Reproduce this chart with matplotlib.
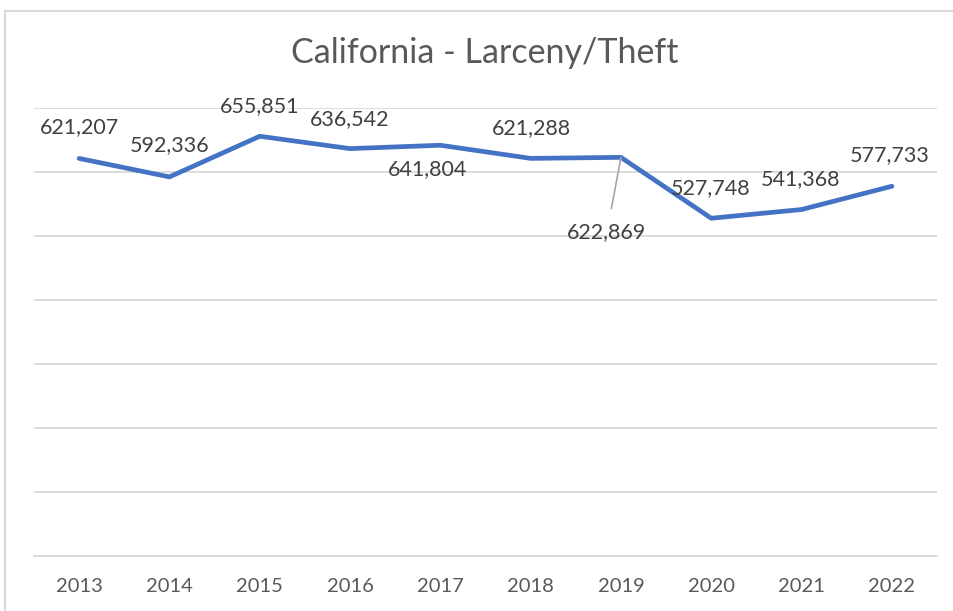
import matplotlib
matplotlib.use("Agg")
import matplotlib.pyplot as plt
from matplotlib.lines import Line2D

years = ["2013", "2014", "2015", "2016", "2017", "2018", "2019", "2020", "2021", "2022"]
values = [621207, 592336, 655851, 636542, 641804, 621288, 622869, 527748, 541368, 577733]
title = "California - Larceny/Theft"

# label offsets in pixels (dx, dy) relative to each point
offsets = [(0, 31), (0, 32), (0, 30), (0, 30), (-13, -24), (1, 30), (-14, -75), (-1, 30), (-1, 30), (-2, 31)]

plt.rcParams['font.family'] = ['Lato', 'DejaVu Sans']
W, H = 954, 611
fig = plt.figure(figsize=(W / 100, H / 100), dpi=100)
fig.patch.set_facecolor('white')

ax = fig.add_axes([34 / W, 1 - 556 / H, (937 - 34) / W, (556 - 108) / H])
x = list(range(len(years)))
ax.plot(x, values, color='#4472C4', lw=3.4, solid_capstyle='round', solid_joinstyle='round', zorder=3)
ax.set_xlim(-0.5, len(years) - 0.5)
ax.set_ylim(0, 700000)
ax.set_yticks(range(0, 700001, 100000))
ax.yaxis.grid(True, color='#d9d9d9', lw=1.3)
ax.set_axisbelow(True)
ax.tick_params(axis='y', left=False, labelleft=False)
ax.set_xticks(x)
ax.set_xticklabels(years, fontsize=14.5, color='#595959')
ax.tick_params(axis='x', length=0, pad=16)
for s in ['top', 'right', 'left']:
    ax.spines[s].set_visible(False)
ax.spines['bottom'].set_color('#d9d9d9')
ax.spines['bottom'].set_linewidth(1.3)

for i, (v, (dx, dy)) in enumerate(zip(values, offsets)):
    kw = {}
    if i == 6:
        kw['arrowprops'] = dict(arrowstyle='-', color='#a6a6a6', lw=1.2, shrinkA=8, shrinkB=0)
    ax.annotate(f"{v:,}", xy=(i, v), xytext=(dx, dy), textcoords='offset pixels',
                ha='center', va='center', fontsize=15.5, color='#404040', **kw)

fig.text(485 / W, 1 - 53 / H, title, ha='center', va='center', fontsize=24.5, color='#595959')

# chart border (left and top visible)
fig.add_artist(Line2D([5.5 / W, 5.5 / W], [0, 1 - 10.5 / H], transform=fig.transFigure, color='#d9d9d9', lw=1.5))
fig.add_artist(Line2D([5.5 / W, 1], [1 - 10.5 / H, 1 - 10.5 / H], transform=fig.transFigure, color='#d9d9d9', lw=1.5))

fig.savefig('out.png', dpi=100, facecolor='white')
